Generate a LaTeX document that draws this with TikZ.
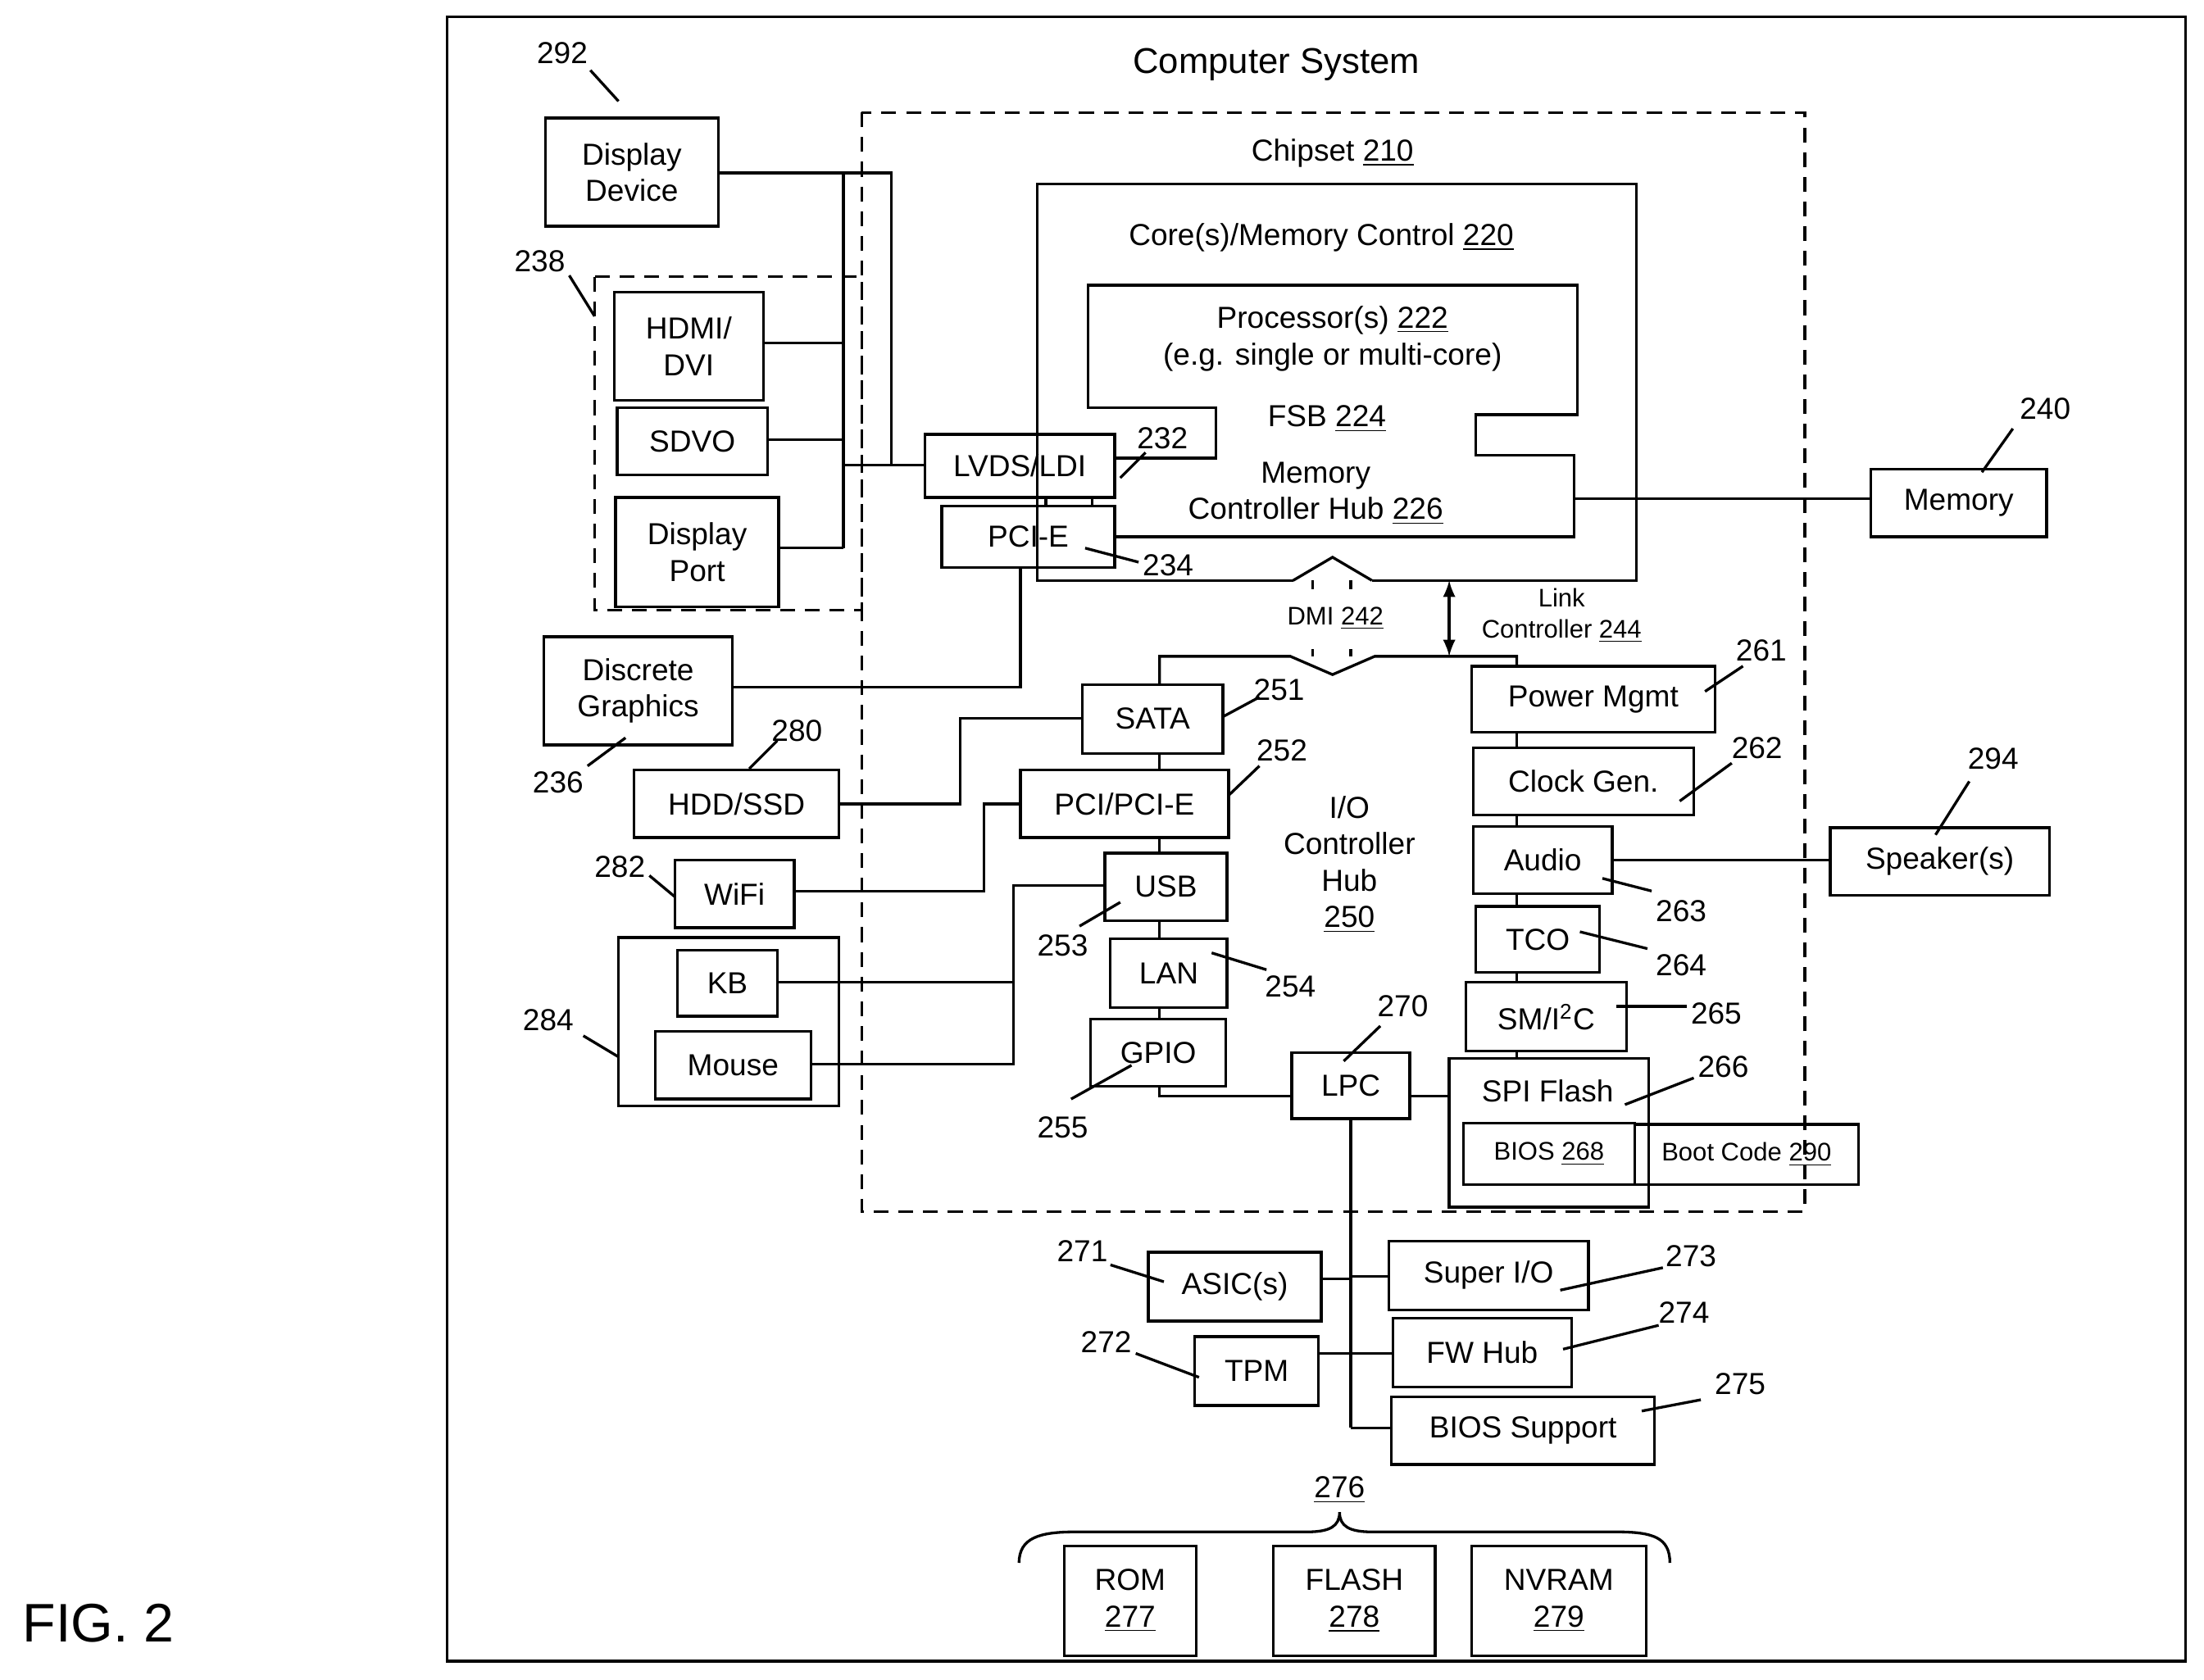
\documentclass[tikz,border=0pt]{standalone}
\usepackage{fontspec}
\setmainfont{Liberation Sans}
\begin{document}
\begin{tikzpicture}[x=0.02cm,y=-0.02cm,line width=1.1pt,
  box/.style={draw,inner sep=0pt,align=center,font=\fontsize{12.3}{14.8}\selectfont},
  lbl/.style={inner sep=0pt,font=\fontsize{12.3}{14.8}\selectfont,align=center},
  sml/.style={inner sep=0pt,font=\fontsize{10.3}{12.5}\selectfont,align=center},
  dsh/.style={dash pattern=on 6pt off 4pt}]
\newcommand\bx[7][box]{\node[#1,minimum width={(#5-#3)*0.02cm},minimum height={(#6-#4)*0.02cm}] (#2) at ({(#3+#5)/2},{(#4+#6)/2}) {#7};}
\useasboundingbox (0,0) rectangle (1568,1195);
% outer
\draw (318,12) rectangle (1555,1182);
\node[lbl,font=\fontsize{14.5}{17}\selectfont] (title) at (908,46) {Computer System};
\node[lbl,font=\fontsize{22}{26}\selectfont] (fig) at (70,1155) {FIG. 2};
% chipset
\draw[dsh] (613,80) rectangle (1284,862);
\node[lbl] (chip) at (948,109) {Chipset \underline{210}};
% core box with DMI gap
\draw (920,413) -- (738,413) -- (738,131) -- (1164,131) -- (1164,413) -- (976,413);
\node[lbl] (core) at (940,169) {Core(s)/Memory Control \underline{220}};
% processor / MCH outline
\draw (793,326) -- (865,326) -- (865,290) -- (774,290) -- (774,203) -- (1122,203) -- (1122,295) -- (1050,295) -- (1050,324) -- (1120,324) -- (1120,382) -- (793,382);
\node[lbl] (proc) at (948,241) {Processor(s) \underline{222}\\(e.g. single or multi-core)};
\node[lbl] (fsb) at (944,298) {FSB \underline{224}};
\node[lbl] (mch) at (936,351) {Memory\\Controller Hub \underline{226}};
% LVDS, PCI-E
\bx{lvds}{658}{309}{793}{354}{LVDS/LDI}
\bx{pcie}{670}{360}{793}{404}{PCI-E}
\draw (lvds.south -| 744,0) -- (pcie.north -| 744,0);
\draw (lvds.south -| 777,0) -- (pcie.north -| 777,0);
\node[lbl] (l232) at (827,312) {232};
\draw (797,340) -- (815,322);
\node[lbl] (l234) at (831,402) {234};
\draw (772,390) -- (810,400);
% DMI arrow
\draw (920,413) -- (948,396.5) -- (976,413);
\draw (934,413) -- (934,419); \draw (961,413) -- (961,419);
\draw (934,462) -- (934,467); \draw (961,462) -- (961,467);
\node[sml] (dmi) at (950,440) {DMI \underline{242}};
% ICH top line
\draw (825,487) -- (825,467) -- (918,467) -- (948,480) -- (978,467) -- (1079,467) -- (1079,474);
\draw[latex-latex,line width=1.3pt] (1031,413) -- (1031,467);
\node[sml] (link) at (1111,438) {Link\\Controller \underline{244}};
% ICH left column
\bx{sata}{770}{487}{870}{536}{SATA}
\bx{pci}{726}{548}{874}{596}{PCI/PCI-E}
\bx{usb}{786}{607}{873}{655}{USB}
\bx{lan}{790}{668}{873}{717}{LAN}
\bx{gpio}{776}{725}{872}{773}{GPIO}
\bx{lpc}{919}{749}{1003}{796}{LPC}
\draw (sata.south -| 825,0) -- (pci.north -| 825,0);
\draw (pci.south -| 825,0) -- (usb.north -| 825,0);
\draw (usb.south -| 825,0) -- (lan.north -| 825,0);
\draw (lan.south -| 825,0) -- (gpio.north -| 825,0);
\draw (gpio.south -| 825,0) -- (825,780) -- (lpc.west |- 0,780);
\node[lbl] (ich) at (960,615) {I/O\\Controller\\Hub\\\underline{250}};
\node[lbl] (l251) at (910,491) {251}; \draw (870,510) -- (896,496);
\node[lbl] (l252) at (912,534) {252}; \draw (874,566) -- (896,545);
\node[lbl] (l253) at (756,673) {253}; \draw (797,642) -- (768,659);
\node[lbl] (l254) at (918,702) {254}; \draw (862,678) -- (901,690);
\node[lbl] (l255) at (756,802) {255}; \draw (805,758) -- (762,782);
\node[lbl] (l270) at (998,716) {270}; \draw (956,755) -- (982,730);
% right column
\bx{pm}{1047}{474}{1220}{521}{Power Mgmt}
\bx{clk}{1048}{532}{1205}{580}{Clock Gen.}
\bx{aud}{1048}{588}{1147}{636}{Audio}
\bx{tco}{1050}{645}{1138}{692}{TCO}
\bx{smb}{1043}{699}{1157}{748}{SM/I\textsuperscript{2}C}
\draw (1031,753) rectangle (1173,859);
\node[lbl] (spi) at (1101,776) {SPI Flash};
\bx[box,font=\fontsize{10.3}{12.5}\selectfont]{bios}{1041}{799}{1163}{843}{BIOS \underline{268}}
\bx[box,font=\fontsize{10.3}{12.5}\selectfont]{boot}{1163}{800}{1322}{843}{Boot Code \underline{290}}
\draw (pm.south -| 1079,0) -- (clk.north -| 1079,0);
\draw (clk.south -| 1079,0) -- (aud.north -| 1079,0);
\draw (aud.south -| 1079,0) -- (tco.north -| 1079,0);
\draw (tco.south -| 1079,0) -- (smb.north -| 1079,0);
\draw (smb.south -| 1079,0) -- (1079,753);
\draw (lpc.east |- 0,780) -- (1031,780);
\node[lbl] (l261) at (1253,463) {261}; \draw (1213,492) -- (1240,474);
\node[lbl] (l262) at (1250,532) {262}; \draw (1195,570) -- (1232,543);
\node[lbl] (l263) at (1196,648) {263}; \draw (1140,625) -- (1175,634);
\node[lbl] (l264) at (1196,687) {264}; \draw (1124,663) -- (1172,675);
\node[lbl] (l265) at (1221,721) {265}; \draw (1150,716) -- (1200,716);
\node[lbl] (l266) at (1226,759) {266}; \draw (1156,786) -- (1205,767);
% memory, speaker
\bx{mem}{1331}{334}{1456}{382}{Memory}
\draw (1120,355) -- (mem.west |- 0,355);
\node[lbl] (l240) at (1455,291) {240}; \draw (1410,336) -- (1432,305);
\bx{spk}{1302}{589}{1458}{637}{Speaker(s)}
\draw (aud.east) -- (spk.west |- aud.east);
\node[lbl] (l294) at (1418,540) {294}; \draw (1377,594) -- (1401,556);
% display side
\bx{disp}{388}{84}{511}{161}{Display\\Device}
\node[lbl] (l292) at (400,38) {292}; \draw (420,50) -- (440,72);
\draw[dsh] (423,197) rectangle (613,434);
\node[lbl] (l238) at (384,186) {238}; \draw (405,196) -- (423,225);
\bx{hdmi}{437}{208}{543}{285}{HDMI/\\DVI}
\bx{sdvo}{439}{290}{546}{338}{SDVO}
\bx{dp}{438}{354}{554}{432}{Display\\Port}
\draw (disp.east |- 0,123) -- (634,123) -- (634,331) -- (lvds.west |- 0,331);
\draw (600,123) -- (600,390);
\draw (hdmi.east |- 0,244) -- (600,244);
\draw (sdvo.east |- 0,313) -- (600,313);
\draw (dp.east |- 0,390) -- (600,390);
\draw (600,331) -- (634,331);
\bx{dg}{387}{453}{521}{530}{Discrete\\Graphics}
\draw (dg.east |- 0,489) -- (726,489) -- (pcie.south -| 726,0);
\node[lbl] (l236) at (397,557) {236}; \draw (418,545) -- (445,525);
\bx{hdd}{451}{548}{597}{596}{HDD/SSD}
\node[lbl] (l280) at (567,520) {280}; \draw (533,547) -- (553,527);
\draw (hdd.east |- 0,572) -- (683,572) -- (683,511) -- (sata.west |- 0,511);
\bx{wifi}{480}{612}{565}{660}{WiFi}
\node[lbl] (l282) at (441,617) {282}; \draw (462,623) -- (480,638);
\draw (wifi.east |- 0,634) -- (700,634) -- (700,572) -- (pci.west |- 0,572);
\draw (440,667) rectangle (597,787);
\bx{kb}{482}{676}{553}{723}{KB}
\bx{mouse}{466}{734}{577}{782}{Mouse}
\node[lbl] (l284) at (390,726) {284}; \draw (415,737) -- (440,752);
\draw (kb.east |- 0,699) -- (721,699);
\draw (mouse.east |- 0,757) -- (721,757) -- (721,630) -- (usb.west |- 0,630);
% LPC devices
\draw (lpc.south -| 961,0) -- (961,1016);
\bx{asic}{817}{891}{940}{940}{ASIC(s)}
\bx{tpm}{850}{951}{938}{1000}{TPM}
\bx{sio}{988}{883}{1130}{932}{Super I/O}
\bx{fwh}{991}{938}{1118}{987}{FW Hub}
\bx{bsup}{990}{994}{1177}{1042}{BIOS Support}
\draw (asic.east |- 0,910) -- (961,910);
\draw (961,908) -- (sio.west |- 0,908);
\draw (tpm.east |- 0,963) -- (961,963) -- (fwh.west |- 0,963);
\draw (961,1016) -- (bsup.west |- 0,1016);
\node[lbl] (l271) at (770,890) {271}; \draw (790,900) -- (828,912);
\node[lbl] (l272) at (787,955) {272}; \draw (808,963) -- (853,980);
\node[lbl] (l273) at (1203,894) {273}; \draw (1110,918) -- (1183,902);
\node[lbl] (l274) at (1198,934) {274}; \draw (1112,960) -- (1180,943);
\node[lbl] (l275) at (1238,985) {275}; \draw (1168,1004) -- (1210,996);
% memory types
\node[lbl] (l276) at (953,1060) {\underline{276}};
\draw (725,1112) .. controls (725,1094) and (740,1090) .. (765,1090) -- (930,1090) .. controls (946,1090) and (953,1086) .. (953,1076) .. controls (953,1086) and (960,1090) .. (976,1090) -- (1150,1090) .. controls (1176,1090) and (1188,1094) .. (1188,1112);
\bx{rom}{757}{1100}{851}{1178}{ROM\\\underline{277}}
\bx{flash}{906}{1100}{1021}{1178}{FLASH\\\underline{278}}
\bx{nvram}{1047}{1100}{1171}{1178}{NVRAM\\\underline{279}}
\end{tikzpicture}
\end{document}
